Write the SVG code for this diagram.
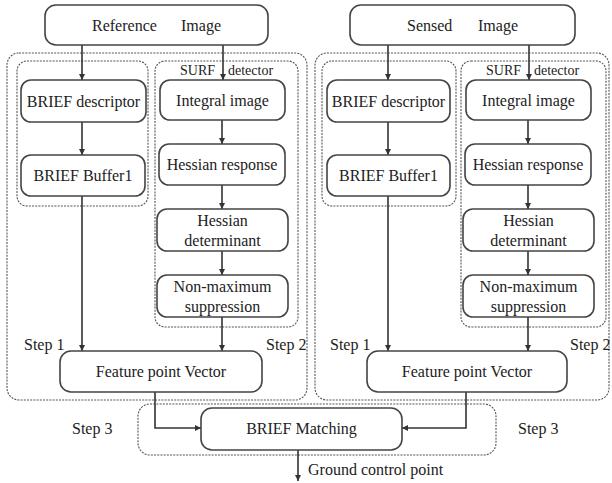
<svg xmlns="http://www.w3.org/2000/svg" width="612" height="483" viewBox="0 0 612 483">
  <defs>
    <marker id="arrow" viewBox="0 0 10 10" refX="10" refY="5" markerWidth="6" markerHeight="6" markerUnits="userSpaceOnUse" orient="auto">
      <path d="M0,0 L10,5 L0,10 z" fill="#333"/>
    </marker>
    <style>
      .box { fill: #fff; stroke: #444; stroke-width: 1.6; }
      .group { fill: none; stroke: #555; stroke-width: 1.1; stroke-dasharray: 2 1.2; }
      text { font-family: 'Liberation Serif', 'DejaVu Serif', serif; font-size: 16px; fill: #222; }
      .c { text-anchor: middle; }
      .small { font-size: 14px; }
      .conn { fill: none; stroke: #333; stroke-width: 1.6; }
      .arr { marker-end: url(#arrow); }
    </style>
  </defs>
  <rect width="612" height="483" fill="#fff"/>

  <!-- dotted grouping frames -->
  <g id="frames">
    <rect class="group" x="7" y="53" width="300" height="347" rx="12"/>
    <rect class="group" x="17" y="61" width="131" height="145" rx="10"/>
    <rect class="group" x="155" y="61" width="143" height="266" rx="10"/>
    <rect class="group" x="315" y="53" width="294" height="347" rx="12"/>
    <rect class="group" x="322" y="61" width="134" height="145" rx="10"/>
    <rect class="group" x="461" y="61" width="145" height="266" rx="10"/>
    <rect class="group" x="138" y="404" width="358" height="51" rx="12"/>
  </g>

  <!-- connectors -->
  <g id="connectors">
    <!-- reference side -->
    <line class="conn arr" x1="82" y1="45" x2="82" y2="80"/>
    <line class="conn arr" x1="223" y1="45" x2="223" y2="80"/>
    <line class="conn arr" x1="82" y1="122" x2="82" y2="155"/>
    <line class="conn arr" x1="222" y1="120" x2="222" y2="144"/>
    <line class="conn arr" x1="222" y1="185" x2="222" y2="209"/>
    <line class="conn arr" x1="222" y1="251" x2="222" y2="275"/>
    <line class="conn arr" x1="82" y1="196" x2="82" y2="351"/>
    <line class="conn arr" x1="222" y1="317" x2="222" y2="351"/>
    <polyline class="conn arr" points="155,392 155,428 201,428"/>
    <!-- sensed side -->
    <line class="conn arr" x1="388" y1="45" x2="388" y2="80"/>
    <line class="conn arr" x1="529" y1="45" x2="529" y2="80"/>
    <line class="conn arr" x1="388" y1="122" x2="388" y2="155"/>
    <line class="conn arr" x1="528" y1="120" x2="528" y2="144"/>
    <line class="conn arr" x1="528" y1="185" x2="528" y2="209"/>
    <line class="conn arr" x1="528" y1="251" x2="528" y2="275"/>
    <line class="conn arr" x1="388" y1="196" x2="388" y2="351"/>
    <line class="conn arr" x1="528" y1="317" x2="528" y2="351"/>
    <polyline class="conn arr" points="466,392 466,428 402,428"/>
    <!-- output -->
    <line class="conn arr" x1="298" y1="450" x2="298" y2="481"/>
  </g>

  <!-- reference image pipeline -->
  <g id="reference-image">
    <rect class="box" x="45" y="5" width="223" height="40" rx="11"/>
    <text y="31"><tspan x="92">Reference</tspan><tspan x="181">Image</tspan></text>
  </g>
  <g id="ref-surf-label">
    <text class="small" y="75"><tspan x="180">SURF</tspan><tspan x="228">detector</tspan></text>
  </g>
  <g id="ref-brief-descriptor">
    <rect class="box" x="21" y="80" width="125" height="42" rx="10"/>
    <text class="c" x="83.5" y="106.5">BRIEF descriptor</text>
  </g>
  <g id="ref-brief-buffer">
    <rect class="box" x="21" y="155" width="124" height="41" rx="10"/>
    <text class="c" x="83" y="181">BRIEF Buffer1</text>
  </g>
  <g id="ref-integral">
    <rect class="box" x="160" y="80" width="125" height="40" rx="10"/>
    <text class="c" x="222.5" y="105.5">Integral image</text>
  </g>
  <g id="ref-hessian-response">
    <rect class="box" x="159" y="144" width="126" height="41" rx="10"/>
    <text class="c" x="222" y="170">Hessian response</text>
  </g>
  <g id="ref-hessian-det">
    <rect class="box" x="157" y="209" width="131" height="42" rx="10"/>
    <text class="c" x="222.5" y="226">Hessian</text>
    <text class="c" x="222.5" y="246">determinant</text>
  </g>
  <g id="ref-nms">
    <rect class="box" x="157" y="275" width="131" height="42" rx="10"/>
    <text class="c" x="222.5" y="292">Non-maximum</text>
    <text class="c" x="222.5" y="312">suppression</text>
  </g>
  <g id="ref-feature-vector">
    <rect class="box" x="60" y="351" width="202" height="41" rx="11"/>
    <text class="c" x="161" y="377">Feature point Vector</text>
  </g>

  <!-- sensed image pipeline -->
  <g id="sensed-image">
    <rect class="box" x="350" y="5" width="225" height="40" rx="11"/>
    <text y="31"><tspan x="407">Sensed</tspan><tspan x="478">Image</tspan></text>
  </g>
  <g id="sen-surf-label">
    <text class="small" y="75"><tspan x="486">SURF</tspan><tspan x="534">detector</tspan></text>
  </g>
  <g id="sen-brief-descriptor">
    <rect class="box" x="327" y="80" width="123" height="42" rx="10"/>
    <text class="c" x="388.5" y="106.5">BRIEF descriptor</text>
  </g>
  <g id="sen-brief-buffer">
    <rect class="box" x="327" y="155" width="123" height="41" rx="10"/>
    <text class="c" x="388.5" y="181">BRIEF Buffer1</text>
  </g>
  <g id="sen-integral">
    <rect class="box" x="466" y="80" width="125" height="40" rx="10"/>
    <text class="c" x="528.5" y="105.5">Integral image</text>
  </g>
  <g id="sen-hessian-response">
    <rect class="box" x="465" y="144" width="126" height="41" rx="10"/>
    <text class="c" x="528" y="170">Hessian response</text>
  </g>
  <g id="sen-hessian-det">
    <rect class="box" x="463" y="209" width="131" height="42" rx="10"/>
    <text class="c" x="528.5" y="226">Hessian</text>
    <text class="c" x="528.5" y="246">determinant</text>
  </g>
  <g id="sen-nms">
    <rect class="box" x="463" y="275" width="131" height="42" rx="10"/>
    <text class="c" x="528.5" y="292">Non-maximum</text>
    <text class="c" x="528.5" y="312">suppression</text>
  </g>
  <g id="sen-feature-vector">
    <rect class="box" x="367" y="351" width="200" height="41" rx="11"/>
    <text class="c" x="467" y="377">Feature point Vector</text>
  </g>

  <!-- matching -->
  <g id="brief-matching">
    <rect class="box" x="201" y="408" width="201" height="42" rx="11"/>
    <text class="c" x="301.5" y="434">BRIEF Matching</text>
  </g>
  <g id="output-label">
    <text x="308" y="475">Ground control point</text>
  </g>

  <!-- step labels -->
  <g id="step-labels">
    <text x="24" y="350">Step 1</text>
    <text x="266" y="350">Step 2</text>
    <text x="72" y="434">Step 3</text>
    <text x="330" y="350">Step 1</text>
    <text x="570" y="350">Step 2</text>
    <text x="518" y="434">Step 3</text>
  </g>
</svg>
